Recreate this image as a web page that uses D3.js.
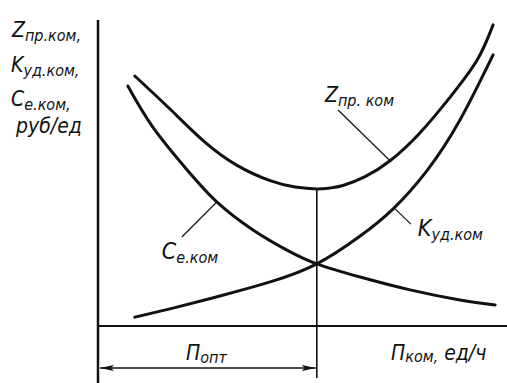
<!DOCTYPE html>
<html>
<head>
<meta charset="utf-8">
<script src="https://cdn.jsdelivr.net/npm/d3@7"></script>
<style>
  body { margin: 0; background: #fff; }
  svg { display: block; }
  text { font-family: "Liberation Sans Narrow", "DejaVu Sans Condensed", "Liberation Sans", sans-serif; font-style: italic; fill: #111; }
</style>
</head>
<body>
<script>
// production rate, relative units (0..100 along the axis)
var xZ = [9, 17.6, 25.7, 34, 42.1, 48.2, 53.5, 56.7, 59.9, 65.3, 71.4, 78.7, 86.1, 92.7, 96.6];
var zPr = [81.7, 70.9, 60.6, 52.5, 47.5, 45.4, 44.8, 45.1, 45.9, 48.8, 54.0, 63.1, 74.8, 86.9, 98.4];

var xC = [7.3, 13.4, 21.8, 29.1, 37.9, 46.2, 53.5, 64.1, 76.3, 88.5, 97.1];
var cE = [78.4, 65, 51, 40.5, 31.4, 24.8, 20.3, 16, 11.8, 8.5, 6.9];

var xK = [9, 17.6, 29.8, 42.1, 53.5, 64.1, 72.1, 80.4, 88.5, 96.6];
var kUd = [2.9, 5.6, 9.8, 14.4, 20.3, 29.4, 38.2, 50.7, 67.3, 88.6];

var xOpt = 53.5;

var width = 507, height = 383;
var margin = {left: 98, right: 0, top: 20, bottom: 57};

var svg = d3.select('body').append('svg')
  .attr('width', width)
  .attr('height', height);

var x = d3.scaleLinear().domain([0, 100]).range([margin.left, width - margin.right]);
var y = d3.scaleLinear().domain([0, 100]).range([height - margin.bottom, margin.top]);

var ink = '#111';

// arrow heads
var defs = svg.append('defs');
defs.append('marker')
  .attr('id', 'arr')
  .attr('viewBox', '0 0 14 6')
  .attr('refX', 14).attr('refY', 3)
  .attr('markerWidth', 14).attr('markerHeight', 6)
  .attr('markerUnits', 'userSpaceOnUse')
  .attr('orient', 'auto-start-reverse')
  .append('path')
  .attr('d', 'M0,0 L14,3 L0,6 L3,3 Z')
  .attr('fill', ink);

// axes
svg.append('line')
  .attr('x1', x(0)).attr('x2', x(0))
  .attr('y1', y(100)).attr('y2', height)
  .attr('stroke', ink).attr('stroke-width', 2.5);
svg.append('line')
  .attr('x1', x(0)).attr('x2', x(100))
  .attr('y1', y(0)).attr('y2', y(0))
  .attr('stroke', ink).attr('stroke-width', 2.2);

// curves
var line = d3.line()
  .x(function(d) { return x(d[0]); })
  .y(function(d) { return y(d[1]); })
  .curve(d3.curveNatural);

var series = [d3.zip(xZ, zPr), d3.zip(xC, cE), d3.zip(xK, kUd)];
svg.selectAll('path.curve')
  .data(series)
  .enter()
  .append('path')
  .attr('class', 'curve')
  .attr('d', line)
  .attr('fill', 'none')
  .attr('stroke', ink)
  .attr('stroke-width', 3)
  .attr('stroke-linecap', 'round');

// optimum line from the minimum of Z down past the axis
var zMin = d3.min(zPr);
svg.append('line')
  .attr('x1', x(xOpt)).attr('x2', x(xOpt))
  .attr('y1', y(zMin)).attr('y2', 378)
  .attr('stroke', ink).attr('stroke-width', 1.6);

// dimension arrow for П опт
svg.append('line')
  .attr('x1', x(0) + 2).attr('x2', x(xOpt) - 1)
  .attr('y1', 368).attr('y2', 368)
  .attr('stroke', ink).attr('stroke-width', 1.4)
  .attr('marker-start', 'url(#arr)')
  .attr('marker-end', 'url(#arr)');

// leader lines
var leaders = [
  [[58.7, 70.6], [71.4, 54.0]],
  [[72.4, 38.6], [76.5, 33.3]],
  [[29.1, 40.6], [20.5, 29.1]]
];
svg.selectAll('line.leader')
  .data(leaders)
  .enter()
  .append('line')
  .attr('class', 'leader')
  .attr('x1', function(d) { return x(d[0][0]); })
  .attr('y1', function(d) { return y(d[0][1]); })
  .attr('x2', function(d) { return x(d[1][0]); })
  .attr('y2', function(d) { return y(d[1][1]); })
  .attr('stroke', ink).attr('stroke-width', 1.2);

// label with a subscript
function label(px, py, main, sub, size, subSize, dy) {
  var t = svg.append('text').attr('x', px).attr('y', py).style('font-size', size + 'px');
  t.append('tspan').text(main);
  t.append('tspan').attr('dy', dy).style('font-size', subSize + 'px').text(sub);
  return t;
}

// curve labels
label(x(55.5), y(73.2), 'Z', 'пр. ком', 21, 16, 4);
label(x(78.2), y(29.4), 'K', 'уд.ком', 23, 16, 4);
label(x(15.6), y(21.9), 'C', 'е.ком', 23, 16, 4);

// y axis title
label(12, 37, 'Z', 'пр.ком,', 21, 16, 4);
label(11, 72, 'K', 'уд.ком,', 21, 16, 4);
label(11, 106, 'C', 'е.ком,', 21, 16, 4);
svg.append('text').attr('x', 16).attr('y', 133).style('font-size', '21px').text('руб/ед');

// x axis labels
label(186, 360, 'П', 'опт', 21, 16, 3);
var xt = svg.append('text').attr('x', 391).attr('y', 360).style('font-size', '21px');
xt.append('tspan').text('П');
xt.append('tspan').attr('dy', 2).style('font-size', '16px').text('ком,');
xt.append('tspan').attr('dy', -2).text(' ед/ч');
</script>
</body>
</html>
